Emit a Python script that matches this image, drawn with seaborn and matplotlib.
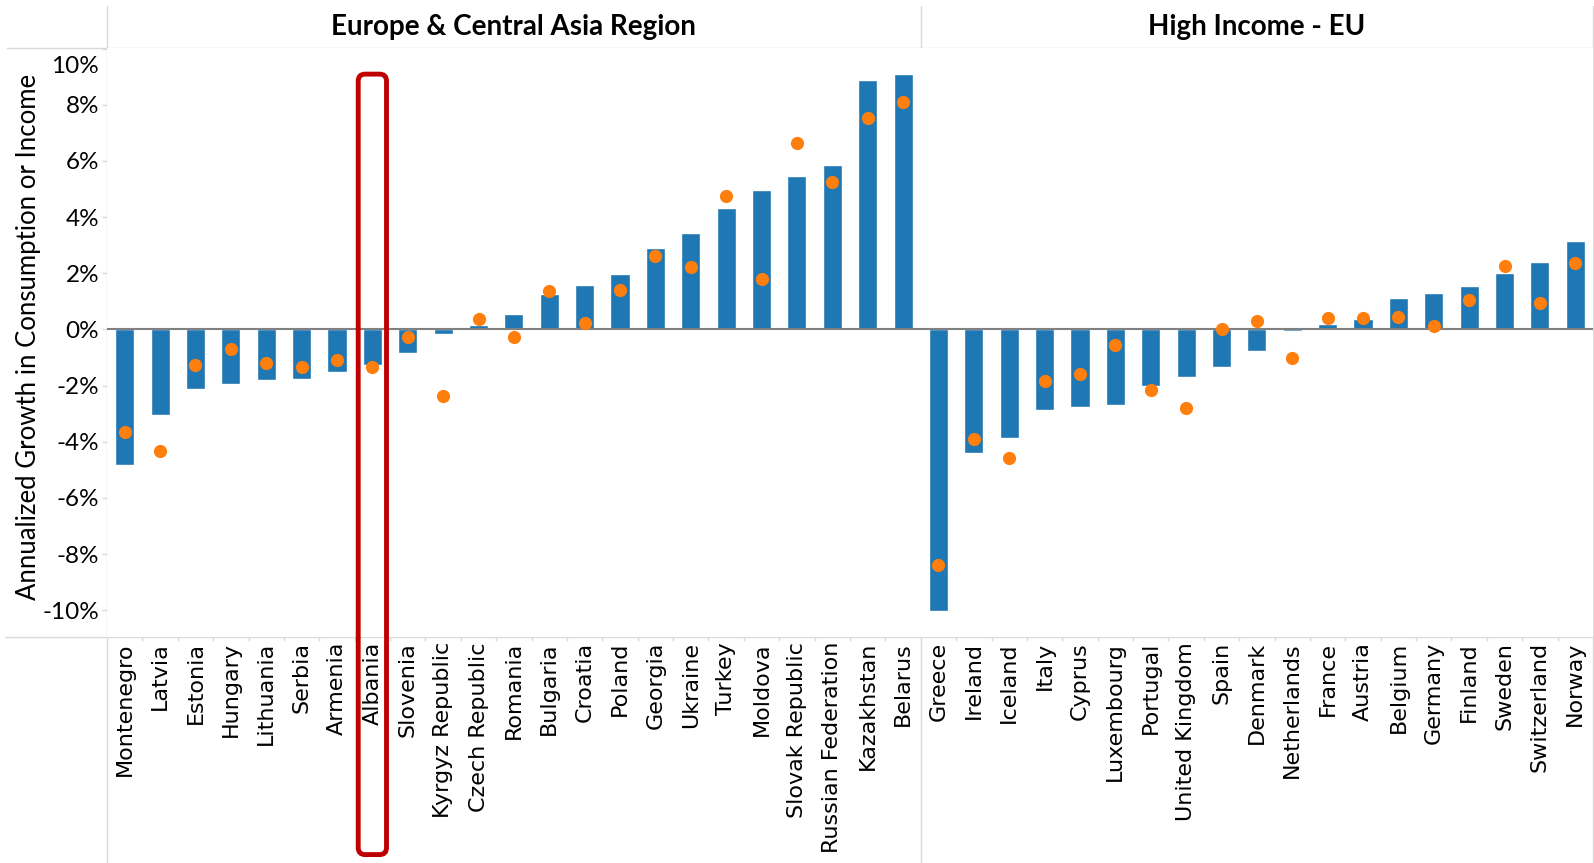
import numpy as np
import pandas as pd
import matplotlib.pyplot as plt
import seaborn as sns
from matplotlib.patches import FancyBboxPatch
from matplotlib.lines import Line2D
from matplotlib.transforms import IdentityTransform
from matplotlib.ticker import FuncFormatter

# data (annualized growth, %)
eca_countries = ["Montenegro", "Latvia", "Estonia", "Hungary", "Lithuania", "Serbia", "Armenia",
                 "Albania", "Slovenia", "Kyrgyz Republic", "Czech Republic", "Romania", "Bulgaria",
                 "Croatia", "Poland", "Georgia", "Ukraine", "Turkey", "Moldova", "Slovak Republic",
                 "Russian Federation", "Kazakhstan", "Belarus"]
eca_bars = [-4.83, -3.04, -2.12, -1.93, -1.80, -1.77, -1.51, -1.26, -0.83, -0.16, 0.15, 0.54, 1.26,
            1.58, 1.97, 2.89, 3.43, 4.32, 4.96, 5.46, 5.85, 8.87, 9.09]
eca_dots = [-3.64, -4.33, -1.26, -0.69, -1.19, -1.34, -1.08, -1.34, -0.27, -2.36, 0.36, -0.28, 1.36,
            0.24, 1.40, 2.61, 2.24, 4.75, 1.81, 6.62, 5.24, 7.54, 8.09]

hi_countries = ["Greece", "Ireland", "Iceland", "Italy", "Cyprus", "Luxembourg", "Portugal",
                "United Kingdom", "Spain", "Denmark", "Netherlands", "France", "Austria", "Belgium",
                "Germany", "Finland", "Sweden", "Switzerland", "Norway"]
hi_bars = [-10.01, -4.39, -3.86, -2.86, -2.75, -2.68, -2.01, -1.69, -1.33, -0.76, -0.05, 0.19, 0.37,
           1.11, 1.29, 1.54, 2.00, 2.40, 3.14]
hi_dots = [-8.39, -3.90, -4.56, -1.85, -1.59, -0.57, -2.14, -2.80, 0.0, 0.31, -1.01, 0.39, 0.39,
           0.43, 0.13, 1.04, 2.25, 0.94, 2.35]

panel_titles = ["Europe & Central Asia Region", "High Income - EU"]
highlight = "Albania"
yticks = [-10, -8, -6, -4, -2, 0, 2, 4, 6, 8, 10]

BLUE = "#1f77b4"
ORANGE = "#ff7f0e"
GRID = "#dadada"

sns.set_style("white")
plt.rcParams["font.family"] = ["Lato", "DejaVu Sans"]
plt.rcParams["text.color"] = "black"
plt.rcParams["axes.labelcolor"] = "black"
plt.rcParams["xtick.labelcolor"] = "black"
plt.rcParams["ytick.labelcolor"] = "black"

W, H = 1594, 863
fig, axes = plt.subplots(1, 2, figsize=(W / 100, H / 100), dpi=100, sharey=True,
                         gridspec_kw={"width_ratios": [len(eca_countries), len(hi_countries)],
                                      "wspace": 0})
fig.subplots_adjust(left=107 / W, right=1593 / W, top=1 - 48 / H, bottom=1 - 637 / H)

panels = [(eca_countries, eca_bars, eca_dots), (hi_countries, hi_bars, hi_dots)]
for ax, title, (names, bars, dots) in zip(axes, panel_titles, panels):
    df = pd.DataFrame({"country": names, "bar": bars, "dot": dots})
    sns.barplot(data=df, x="country", y="bar", color=BLUE, saturation=1, width=0.54,
                errorbar=None, ax=ax, zorder=2)
    sns.stripplot(data=df, x="country", y="dot", color=ORANGE, jitter=False, size=9.5,
                  linewidth=0, ax=ax, zorder=4)
    ax.axhline(0, color="#808080", lw=1.5, zorder=3)
    ax.set_xlim(-0.5, len(names) - 0.5)
    ax.set_ylim(-10.95, 10.02)
    ax.set_xlabel("")
    ax.set_ylabel("")
    for s in ax.spines.values():
        s.set_visible(False)
    ax.tick_params(axis="x", which="major", length=0, pad=3.6, labelsize=16, labelrotation=90)
    plt.setp(ax.get_xticklabels(), fontfamily="DejaVu Sans")
    ax.set_xticks(np.arange(len(names) - 1) + 0.5, minor=True)
    ax.tick_params(axis="x", which="minor", bottom=True, length=3, color=GRID, width=1)
    ax.text(0.5, 1 + 21 / 589, title, transform=ax.transAxes, ha="center", va="center",
            fontsize=20, fontweight="bold")

ax1, ax2 = axes
ax1.set_yticks(yticks)
ax1.yaxis.set_major_formatter(FuncFormatter(lambda v, p: "" if v >= 10 else f"{v:.0f}%"))
ax1.tick_params(axis="y", left=True, length=3.6, color=GRID, width=1, pad=2, labelsize=17.5)
ax1.annotate(f"{yticks[-1]}%", xy=(0, yticks[-1]), xycoords=("axes fraction", "data"),
             xytext=(-8, -7), textcoords="offset pixels", ha="right", va="top", fontsize=17.5)
ax2.tick_params(axis="y", left=False, labelleft=False)
ax1.set_ylabel("Annualized Growth in Consumption or Income", fontsize=18.5)
ax1.yaxis.set_label_coords(-66 / 814, 0.51)

# frame lines
p1, p2 = ax1.get_position(), ax2.get_position()
lc = dict(color=GRID, lw=1, transform=fig.transFigure, zorder=0)
fig.add_artist(Line2D([7 / W, 1], [p1.y1, p1.y1], **lc))
fig.add_artist(Line2D([5 / W, 1], [p1.y0, p1.y0], **lc))
for xv in [p1.x0, p2.x0, p2.x1]:
    fig.add_artist(Line2D([xv, xv], [0, 1 - 6 / H], **lc))

# highlight box
idx = eca_countries.index(highlight)
xa, ya = ax1.transData.transform((idx - 0.40, max(eca_bars)))
xb, _ = ax1.transData.transform((idx + 0.40, 0))
ybot = 8.4
box = FancyBboxPatch((xa, ybot), xb - xa, ya - ybot, boxstyle="round,pad=0,rounding_size=7",
                     transform=IdentityTransform(), fill=False, ec="#c00000", lw=3.5,
                     clip_on=False, zorder=10)
fig.add_artist(box)

fig.savefig("out.png", dpi=100)
